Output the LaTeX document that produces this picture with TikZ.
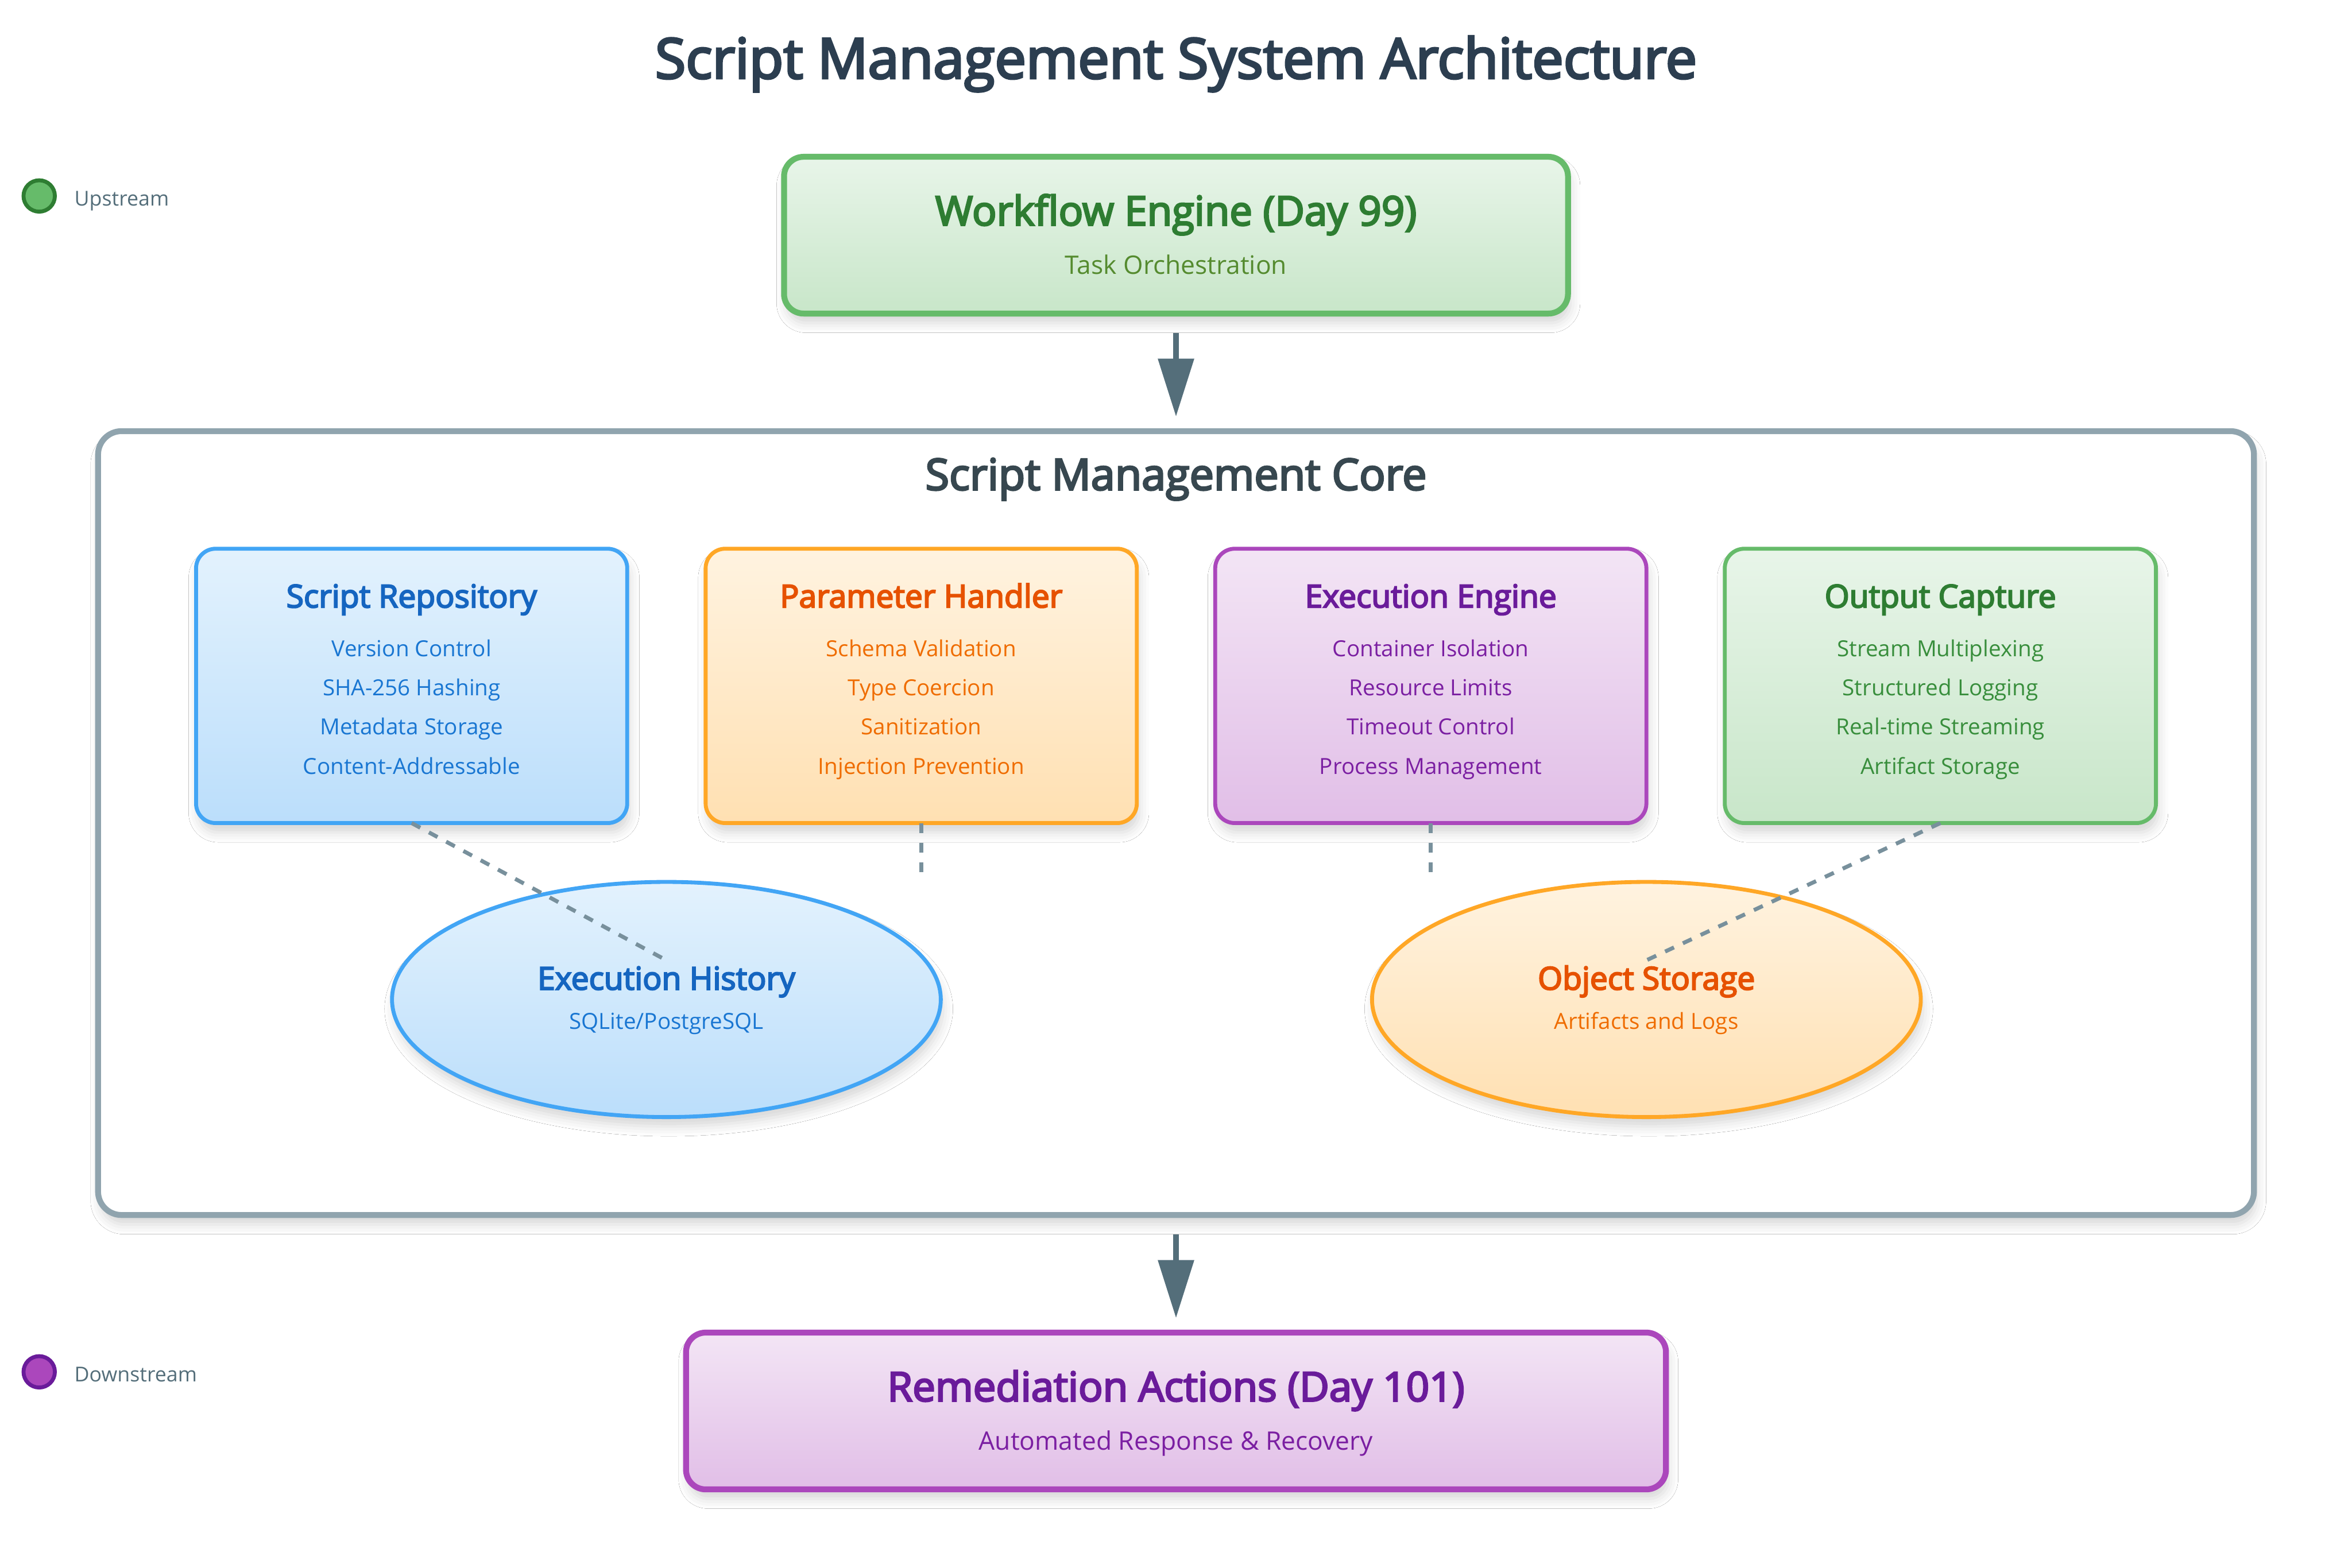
\documentclass[tikz,border=0pt]{standalone}
\usepackage{fontspec}
\setmainfont{Open Sans}[BoldFont={Open Sans}, BoldFeatures={FakeBold=4}]
\usepackage{tikz}
\usetikzlibrary{arrows.meta,positioning,shapes.geometric,calc,shadows.blur}
\usepackage{xcolor}

% palette
\definecolor{titleInk}{HTML}{2C3E50}
\definecolor{coreInk}{HTML}{37474F}
\definecolor{legendInk}{HTML}{546E7A}
\definecolor{arrowInk}{HTML}{546E7A}
\definecolor{linkInk}{HTML}{78909C}
\definecolor{coreLine}{HTML}{90A4AE}
\definecolor{blueTop}{HTML}{E3F2FD}
\definecolor{blueBot}{HTML}{BBDEFB}
\definecolor{blueLine}{HTML}{42A5F5}
\definecolor{blueHead}{HTML}{1565C0}
\definecolor{blueText}{HTML}{1976D2}
\definecolor{orangeTop}{HTML}{FFF3E0}
\definecolor{orangeBot}{HTML}{FFE0B2}
\definecolor{orangeLine}{HTML}{FFA726}
\definecolor{orangeHead}{HTML}{E65100}
\definecolor{orangeText}{HTML}{EF6C00}
\definecolor{purpleTop}{HTML}{F3E5F5}
\definecolor{purpleBot}{HTML}{E1BEE7}
\definecolor{purpleLine}{HTML}{AB47BC}
\definecolor{purpleHead}{HTML}{6A1B9A}
\definecolor{purpleText}{HTML}{7B1FA2}
\definecolor{greenTop}{HTML}{E8F5E9}
\definecolor{greenBot}{HTML}{C8E6C9}
\definecolor{greenLine}{HTML}{66BB6A}
\definecolor{greenHead}{HTML}{2E7D32}
\definecolor{greenText}{HTML}{388E3C}
\definecolor{greenSub}{HTML}{558B2F}

\begin{document}
\begin{tikzpicture}[x=0.05cm, y=-0.05cm,
    softshadow/.style={blur shadow={shadow xshift=0.06cm, shadow yshift=-0.24cm,
                       shadow blur radius=0.25cm, shadow opacity=16}},
    panel/.style={draw, rounded corners=0.5cm, line width=0.15cm, outer sep=0pt,
                  minimum height=4cm, softshadow},
    comp/.style={draw, rounded corners=0.5cm, line width=0.1cm, outer sep=0pt,
                 minimum width=11cm, minimum height=7cm, softshadow},
    store/.style={ellipse, draw, line width=0.1cm, outer sep=0pt,
                  minimum width=14cm, minimum height=6cm, softshadow},
    maintitle/.style={anchor=base, font=\bfseries\fontsize{40.5pt}{48pt}\selectfont, text=titleInk},
    bighead/.style={anchor=base, font=\bfseries\fontsize{29.5pt}{35pt}\selectfont},
    bigsub/.style={anchor=base, font=\fontsize{18.5pt}{22pt}\selectfont},
    head/.style={anchor=base, font=\bfseries\fontsize{23pt}{28pt}\selectfont},
    item/.style={anchor=base, font=\fontsize{16.1pt}{19pt}\selectfont},
    legend/.style={anchor=base west, font=\fontsize{14.9pt}{18pt}\selectfont, text=legendInk},
    dot/.style={circle, draw, line width=0.1cm, minimum size=0.8cm, inner sep=0pt},
    flow/.style={draw=arrowInk, line width=0.15cm, -{Triangle[length=1.48cm, width=0.89cm]},
                 shorten <=0.5cm, shorten >=0.37cm},
    link/.style={draw=linkInk, line width=0.1cm, dash pattern=on 0.25cm off 0.25cm}
  ]
  \path[fill=white, use as bounding box] (0,0) rectangle (1200,800);

  \node[maintitle] (title) at (600,40) {Script Management System Architecture};

  % upstream / downstream
  \node[panel, minimum width=20cm, draw=greenLine, top color=greenTop, bottom color=greenBot] (wf) at (600,120) {};
  \node[bighead, text=greenHead] (wf-title) at ($(wf.center)+(0,-5)$) {Workflow Engine (Day 99)};
  \node[bigsub, text=greenSub] (wf-sub) at ($(wf.center)+(0,20)$) {Task Orchestration};

  \node[panel, minimum width=55cm, minimum height=20cm, rounded corners=0.6cm, draw=coreLine, fill=white,
        below=3cm of wf] (core) {};
  \node[anchor=base, font=\bfseries\fontsize{31.5pt}{38pt}\selectfont, text=coreInk] (core-title)
        at ($(core.north)+(0,30)$) {Script Management Core};

  \node[panel, minimum width=25cm, draw=purpleLine, top color=purpleTop, bottom color=purpleBot,
        below=3cm of core] (rem) {};
  \node[bighead, text=purpleHead] (rem-title) at ($(rem.center)+(0,-5)$) {Remediation Actions (Day 101)};
  \node[bigsub, text=purpleText] (rem-sub) at ($(rem.center)+(0,20)$) {Automated Response \& Recovery};

  % core components
  \node[comp, draw=blueLine, top color=blueTop, bottom color=blueBot,
        below right=3cm and 2.5cm of core.north west] (repo) {};
  \node[head, text=blueHead] (repo-title) at ($(repo.center)+(0,-40)$) {Script Repository};
  \foreach \t [count=\k] in {Version Control, SHA-256 Hashing, Metadata Storage, Content-Addressable}
    \node[item, text=blueText] (repo-\k) at ($(repo.center)+(0,20*\k-35)$) {\t};

  \node[comp, draw=orangeLine, top color=orangeTop, bottom color=orangeBot, right=2cm of repo] (param) {};
  \node[head, text=orangeHead] (param-title) at ($(param.center)+(0,-40)$) {Parameter Handler};
  \foreach \t [count=\k] in {Schema Validation, Type Coercion, Sanitization, Injection Prevention}
    \node[item, text=orangeText] (param-\k) at ($(param.center)+(0,20*\k-35)$) {\t};

  \node[comp, draw=purpleLine, top color=purpleTop, bottom color=purpleBot, right=2cm of param] (exec) {};
  \node[head, text=purpleHead] (exec-title) at ($(exec.center)+(0,-40)$) {Execution Engine};
  \foreach \t [count=\k] in {Container Isolation, Resource Limits, Timeout Control, Process Management}
    \node[item, text=purpleText] (exec-\k) at ($(exec.center)+(0,20*\k-35)$) {\t};

  \node[comp, draw=greenLine, top color=greenTop, bottom color=greenBot, right=2cm of exec] (out) {};
  \node[head, text=greenHead] (out-title) at ($(out.center)+(0,-40)$) {Output Capture};
  \foreach \t [count=\k] in {Stream Multiplexing, Structured Logging, Real-time Streaming, Artifact Storage}
    \node[item, text=greenText] (out-\k) at ($(out.center)+(0,20*\k-35)$) {\t};

  % storage
  \node[store, draw=blueLine, top color=blueTop, bottom color=blueBot] (hist) at (340,510) {};
  \node[head, text=blueHead] (hist-title) at ($(hist.center)+(0,-5)$) {Execution History};
  \node[item, text=blueText] (hist-sub) at ($(hist.center)+(0,15)$) {SQLite/PostgreSQL};

  \node[store, draw=orangeLine, top color=orangeTop, bottom color=orangeBot] (obj) at (840,510) {};
  \node[head, text=orangeHead] (obj-title) at ($(obj.center)+(0,-5)$) {Object Storage};
  \node[item, text=orangeText] (obj-sub) at ($(obj.center)+(0,15)$) {Artifacts and Logs};

  % dashed links
  \coordinate (hist-in) at ($(hist.center)+(0,-20)$);
  \coordinate (obj-in) at ($(obj.center)+(0,-20)$);
  \coordinate (param-end) at ($(param.south)+(0,25)$);
  \coordinate (exec-end) at ($(exec.south)+(0,25)$);
  \draw[link] (repo.south) -- (hist-in);
  \draw[link] (param.south) -- (param-end);
  \draw[link] (exec.south) -- (exec-end);
  \draw[link] (out.south) -- (obj-in);

  % main flow
  \draw[flow] (wf) -- (core);
  \draw[flow] (core) -- (rem);

  % legend
  \node[dot, draw=greenHead, fill=greenLine] (up-dot) at (20,100) {};
  \node[legend] (up-text) at (35.5,105) {Upstream};
  \node[dot, draw=purpleHead, fill=purpleLine] (down-dot) at (20,700) {};
  \node[legend] (down-text) at (35.5,705) {Downstream};
\end{tikzpicture}
\end{document}
